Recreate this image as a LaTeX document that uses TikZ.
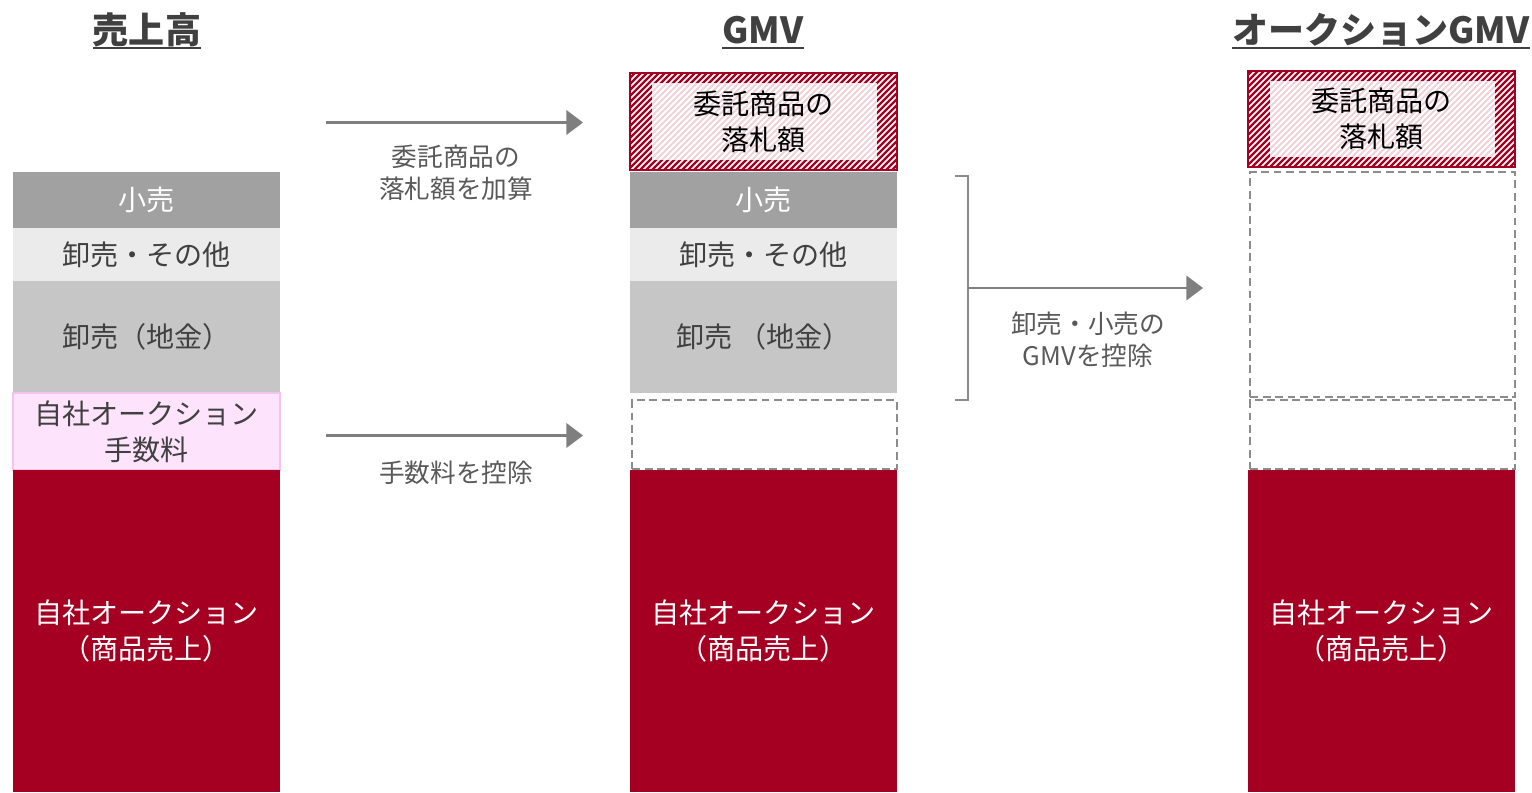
\documentclass[tikz,border=0pt]{standalone}
\usepackage{fontspec}
\newfontfamily\cjk{Noto Sans CJK JP}
\usetikzlibrary{arrows.meta,calc,backgrounds}

\definecolor{cRed}{HTML}{A50021}
\definecolor{cRetail}{HTML}{A0A1A0}
\definecolor{cOther}{HTML}{EBEBEB}
\definecolor{cGold}{HTML}{C5C6C5}
\definecolor{cFee}{HTML}{FDE3FB}
\definecolor{cFeeLine}{HTML}{F3C2EE}
\definecolor{cStripe}{HTML}{F0D2DA}
\definecolor{cText}{HTML}{404040}
\definecolor{cLabel}{HTML}{595959}
\definecolor{cArrow}{HTML}{7F7F7F}
\definecolor{cDash}{HTML}{8C8C8C}

\tikzset{
  blk/.style={rectangle, anchor=north west, inner sep=0pt, outer sep=0pt,
    minimum width=5.34cm, align=center, text=cText,
    font=\cjk\fontsize{16}{20.5}\selectfont},
  gap/.style={draw=cDash, line width=1.3pt, dash pattern=on 4.5pt off 2.6pt,
    anchor=north west, inner sep=0pt, minimum width=5.30cm},
  ttl/.style={anchor=base, inner sep=0pt, text=cText,
    font=\cjk\bfseries\fontsize{20.5}{24}\selectfont},
  lbl/.style={align=center, text=cLabel, font=\cjk\fontsize{14.6}{18.2}\selectfont},
  arr/.style={draw=cArrow, line width=1.2pt, -{Triangle[length=9.5pt,width=14pt]}}
}

% striped box behind a node
\newcommand{\hatchfill}[1]{%
  \begin{scope}[on background layer]
    \begin{scope}
      \clip (#1.south west) rectangle (#1.north east);
      \fill[white] (#1.south west) rectangle (#1.north east);
      \foreach \d in {-110,-104,...,280}
        \draw[cRed, line width=1.3pt] ($(#1.south west)+(\d,0)$) -- ++(110,-110);
    \end{scope}
    \begin{scope}
      \clip ($(#1.south west)+(22,-10)$) rectangle ($(#1.north east)+(-20,10)$);
      \fill[white] ($(#1.south west)+(22,-10)$) rectangle ($(#1.north east)+(-20,10)$);
      \foreach \d in {-110,-104,...,280}
        \draw[cStripe, line width=1.1pt] ($(#1.south west)+(\d,0)$) -- ++(110,-110);
    \end{scope}
  \end{scope}
  \draw[cRed, line width=1.2pt] (#1.south west) rectangle (#1.north east);
}

\begin{document}
\begin{tikzpicture}[x=0.02cm, y=-0.02cm]
  \useasboundingbox (0,0) rectangle (1532,792);

  % titles
  \node[ttl] (t1) at (147,43.5) {売上高};
  \node[ttl] (t2) at (763,43.5) {GMV};
  \node[ttl] (t3) at (1381,43.5) {オークションGMV};
  \foreach \t in {t1,t2,t3}
    \draw[cText, line width=1.4pt] ([yshift=-2.6pt]\t.base west) -- ([yshift=-2.6pt]\t.base east);

  % sales
  \node[blk, fill=cRetail, text=white, minimum height=1.12cm] (retail1) at (13,172) {小売};
  \node[blk, fill=cOther, minimum height=1.06cm] (other1) at (13,228) {卸売・その他};
  \node[blk, fill=cGold, minimum height=2.24cm] (gold1) at (13,281) {卸売（地金）};
  \node[blk, fill=cFee, draw=cFeeLine, line width=1pt, minimum height=1.54cm] (fee1) at (13,393) {自社オークション\\手数料};
  \node[blk, fill=cRed, text=white, minimum height=6.44cm] (auc1) at (13,470) {自社オークション\\（商品売上）};

  % GMV
  \node[blk, text=black, minimum height=1.94cm] (cons2) at (630,73) {委託商品の\\落札額};
  \hatchfill{cons2}
  \node[blk, fill=cRetail, text=white, minimum height=1.12cm] (retail2) at (630,172) {小売};
  \node[blk, fill=cOther, minimum height=1.06cm] (other2) at (630,228) {卸売・その他};
  \node[blk, fill=cGold, minimum height=2.24cm] (gold2) at (630,281) {卸売\hspace{0.2em}（地金）};
  \node[gap, minimum height=1.38cm] (fee2) at (631,399) {};
  \node[blk, fill=cRed, text=white, minimum height=6.44cm] (auc2) at (630,470) {自社オークション\\（商品売上）};

  % auction GMV
  \node[blk, text=black, minimum height=1.92cm] (cons3) at (1248,71) {委託商品の\\落札額};
  \hatchfill{cons3}
  \node[gap, minimum height=4.5cm] (ws3) at (1249,171) {};
  \node[gap, minimum height=1.38cm] (fee3) at (1249,399) {};
  \node[blk, fill=cRed, text=white, minimum height=6.44cm] (auc3) at (1248,470) {自社オークション\\（商品売上）};

  % arrows
  \coordinate (a1s) at (326,122.5);
  \coordinate (a1e) at (583,122.5);
  \coordinate (a2s) at (326,435.5);
  \coordinate (a2e) at (583,435.5);
  \coordinate (brT) at (955,176);
  \coordinate (brB) at (955,400);
  \coordinate (brM) at (968,288);
  \coordinate (a3e) at (1203,288);

  \draw[arr] (a1s) -- (a1e);
  \node[lbl] (add) at (456,173) {委託商品の\\落札額を加算};
  \draw[arr] (a2s) -- (a2e);
  \node[lbl] (fee) at (456,473) {手数料を控除};
  \draw[cDash, line width=0.9pt] (brT) -- ++(13,0) |- (brB);
  \draw[arr] (brM) -- (a3e);
  \node[lbl] (sub) at (1088,340) {卸売・小売の\\GMVを控除};
\end{tikzpicture}
\end{document}
